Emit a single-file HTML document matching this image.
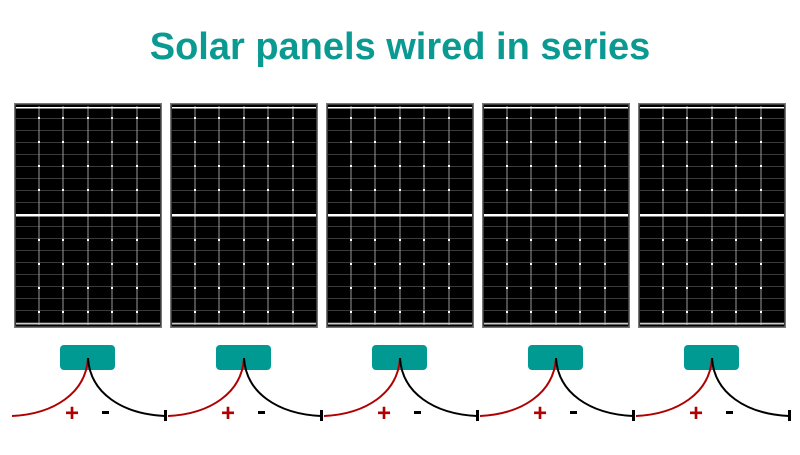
<!DOCTYPE html>
<html><head><style>
body{margin:0;width:800px;height:450px;background:#fff;overflow:hidden;font-family:"Liberation Sans",sans-serif}
</style></head><body>
<svg width="800" height="450" viewBox="0 0 800 450" xmlns="http://www.w3.org/2000/svg">
<defs>
<pattern id="hl" x="0" y="0" width="10" height="12" patternUnits="userSpaceOnUse"><rect y="11" width="10" height="1" fill="#3a3a3a"/></pattern>
<g id="panel">
<rect x="0" y="0" width="148" height="225" fill="#777"/>
<rect x="1.5" y="1.5" width="145" height="222" fill="#000"/>
<rect x="2" y="2" width="144" height="221" fill="url(#hl)" transform="translate(0,4)"/>
<g stroke="#999" stroke-width="1">
<line x1="25" y1="3" x2="25" y2="222"/><line x1="49" y1="3" x2="49" y2="222"/><line x1="74" y1="3" x2="74" y2="222"/><line x1="98" y1="3" x2="98" y2="222"/><line x1="123" y1="3" x2="123" y2="222"/>
</g>
<rect x="2" y="4" width="144" height="1.5" fill="#fff"/>
<rect x="2" y="111" width="144" height="2.5" fill="#fff"/>
<rect x="2" y="220" width="144" height="1.5" fill="#ccc"/>
<g fill="#fff">
<rect x="24" y="14" width="2" height="2"/><rect x="48" y="14" width="2" height="2"/><rect x="73" y="14" width="2" height="2"/><rect x="97" y="14" width="2" height="2"/><rect x="122" y="14" width="2" height="2"/>
<rect x="24" y="38" width="2" height="2"/><rect x="48" y="38" width="2" height="2"/><rect x="73" y="38" width="2" height="2"/><rect x="97" y="38" width="2" height="2"/><rect x="122" y="38" width="2" height="2"/>
<rect x="24" y="62" width="2" height="2"/><rect x="48" y="62" width="2" height="2"/><rect x="73" y="62" width="2" height="2"/><rect x="97" y="62" width="2" height="2"/><rect x="122" y="62" width="2" height="2"/>
<rect x="24" y="86" width="2" height="2"/><rect x="48" y="86" width="2" height="2"/><rect x="73" y="86" width="2" height="2"/><rect x="97" y="86" width="2" height="2"/><rect x="122" y="86" width="2" height="2"/>
<rect x="24" y="136" width="2" height="2"/><rect x="48" y="136" width="2" height="2"/><rect x="73" y="136" width="2" height="2"/><rect x="97" y="136" width="2" height="2"/><rect x="122" y="136" width="2" height="2"/>
<rect x="24" y="160" width="2" height="2"/><rect x="48" y="160" width="2" height="2"/><rect x="73" y="160" width="2" height="2"/><rect x="97" y="160" width="2" height="2"/><rect x="122" y="160" width="2" height="2"/>
<rect x="24" y="184" width="2" height="2"/><rect x="48" y="184" width="2" height="2"/><rect x="73" y="184" width="2" height="2"/><rect x="97" y="184" width="2" height="2"/><rect x="122" y="184" width="2" height="2"/>
<rect x="24" y="208" width="2" height="2"/><rect x="48" y="208" width="2" height="2"/><rect x="73" y="208" width="2" height="2"/><rect x="97" y="208" width="2" height="2"/><rect x="122" y="208" width="2" height="2"/>
</g>
<rect x="46" y="242" width="55" height="25" rx="4" fill="#009a93"/>
<path d="M74 255 C72 290 40 311 -2 313" stroke="#b00000" stroke-width="2" fill="none"/>
<path d="M74 255 C76 290 108 311 151 313" stroke="#000" stroke-width="2" fill="none"/>
<rect x="150" y="307" width="3" height="11" fill="#000"/>
<text x="58" y="318" font-size="24" font-weight="bold" fill="#b00000" text-anchor="middle">+</text>
<rect x="88" y="308" width="7" height="3" fill="#000"/>
</g>
</defs>
<text x="400" y="59" font-size="38" font-weight="bold" fill="#0a9a92" text-anchor="middle">Solar panels wired in series</text>
<use href="#panel" x="14" y="103"/>
<use href="#panel" x="170" y="103"/>
<use href="#panel" x="326" y="103"/>
<use href="#panel" x="482" y="103"/>
<use href="#panel" x="638" y="103"/>
</svg>
</body></html>
